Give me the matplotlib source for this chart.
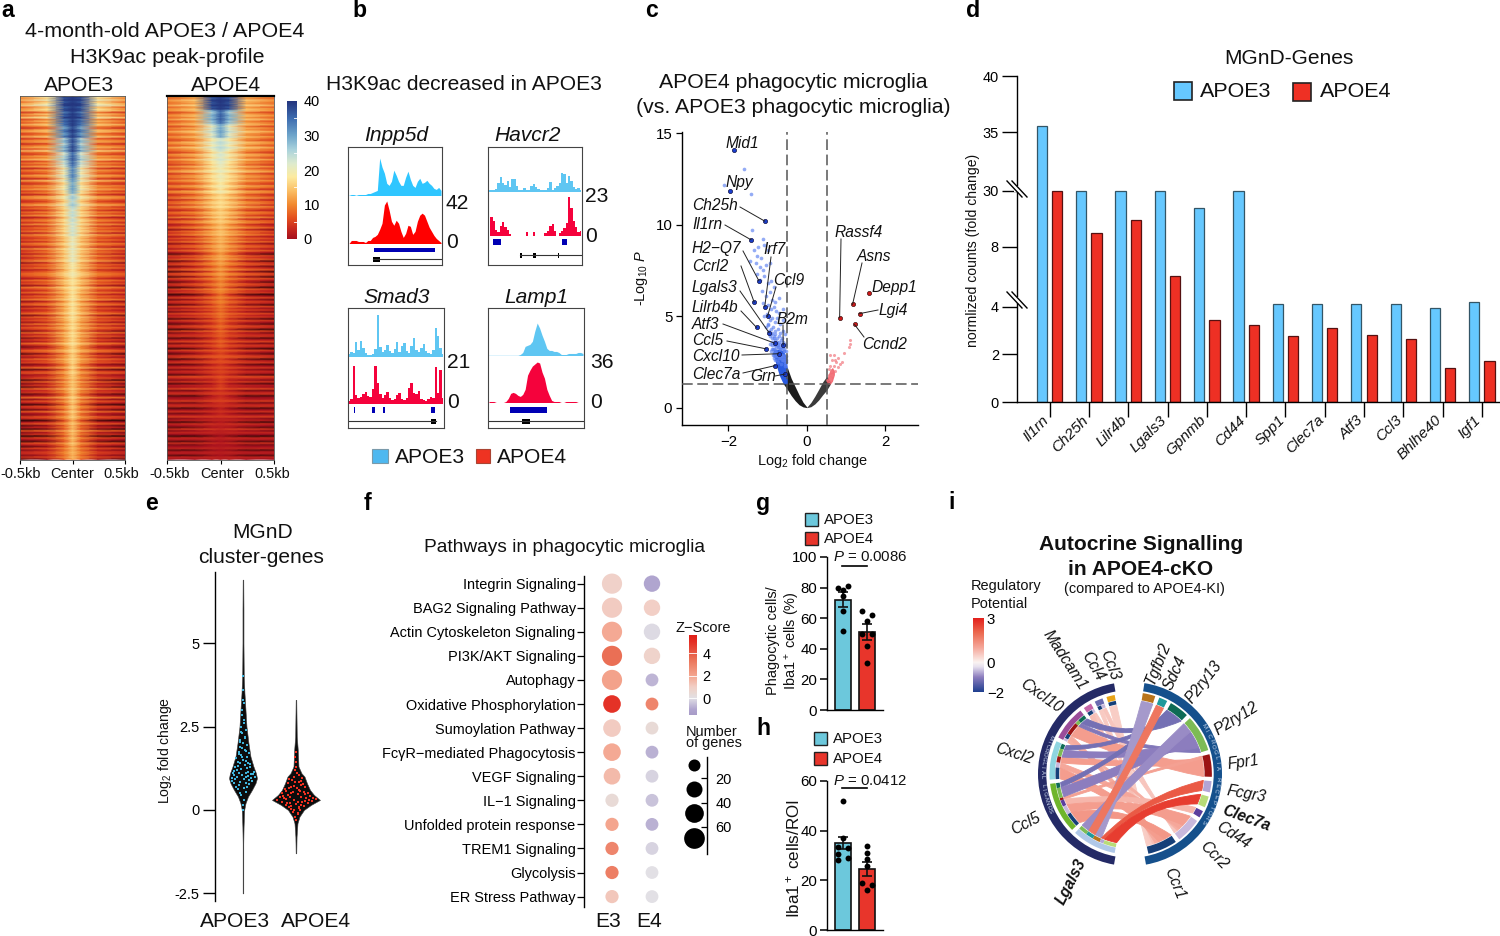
import numpy as np
import matplotlib
matplotlib.use("Agg")
import matplotlib.pyplot as plt
from matplotlib.colors import LinearSegmentedColormap, Normalize
from matplotlib.patches import Rectangle, PathPatch, Wedge
from matplotlib.path import Path

plt.rcParams['font.family'] = ['Liberation Sans', 'DejaVu Sans']
plt.rcParams['mathtext.fontset'] = 'custom'
plt.rcParams['mathtext.rm'] = 'Liberation Sans'
plt.rcParams['mathtext.it'] = 'Liberation Sans:italic'
plt.rcParams['mathtext.bf'] = 'Liberation Sans:bold'
plt.rcParams['axes.linewidth'] = 1.0

# ---------- panel a: rows top to bottom, columns edge / mid / near / centre
HEAT_OFFSETS = [-0.5, -0.24, -0.08, 0, 0.08, 0.24, 0.5]
HEAT_E3 = [[10,17,38,40],[8,13,36,40],[7,11,32,39],[7,10,27,38],[7,10,24,36],[6,9,20,33],[6,9,18,30],
           [6,9,17,26],[5,8,16,24],[5,8,16,23],[5,8,15,21],[4,8,15,21],[4,7,14,19],[4,7,14,18],
           [4,7,13,18],[3,6,13,18],[3,6,12,17],[2,5,12,17],[2,5,11,16],[2,4,10,16],[1,4,10,15],
           [1,3,9,15],[1,3,9,15],[0,2,8,14],[0,2,8,14],[0,2,8,13]]
HEAT_E4 = [[9,13,38,40],[8,12,28,36],[8,12,22,30],[8,12,20,24],[7,11,18,22],[7,11,17,20],[7,10,16,19],
           [6,10,15,17],[6,9,14,16],[5,9,13,15],[5,8,12,14],[4,7,11,13],[4,7,10,12],[3,6,9,11],
           [3,5,8,10],[3,5,7,9],[2,4,6,8],[2,3,5,7],[1,3,5,6],[1,2,4,5],[1,2,3,5],
           [1,1,3,4],[1,1,2,3],[0,1,2,2],[0,0,1,1],[0,0,1,1]]
# row-to-row streak offsets estimated from the horizontal banding of each heatmap
STREAK_E3 = [2,-1,3,-2,1,4,-3,0,3,-4,2,-1,5,-3,1,-2,4,0,-4,2,3,-2,-1,4,-3,1,2,-4,0,3,-2,5,-1,-3,2,0,4,-3,1,-2,3,-4,2,0,-2,3,1,-4,4,-1,-3,2,
             0,3,-2,1,-4,2,3,-1,-3,0,4,-2,1,-3,2,-1,3,-4,0,2,-2,3,-3,1,-1,2,-4,3,0,-2,1,-3,2,0,-4,3,-1,1,-3,2,-2,0,3,-4,1,-1,2,-3,0,2]
STREAK_E4 = [1,-2,2,0,-1,3,-2,1,2,-3,0,2,-1,3,-2,0,2,-3,1,-1,3,0,-2,2,-1,-3,2,1,-2,3,0,-1,-3,2,1,-2,3,-1,0,-3,2,-2,1,3,-3,0,1,-2,2,-1,-3,2,
             0,-4,2,1,-3,-1,2,-4,0,1,-3,2,-1,-4,1,0,-3,2,-5,0,1,-4,-2,1,-5,0,-2,1,-4,0,-3,1,-5,-1,0,-4,1,-3,-6,0,-2,1,-6,-1,0,-5,-2,1,-6,0]
HEAT_BAR_TICKS = [0, 10, 20, 30, 40]

# ---------- panel b: signal tracks
INPP5D_E3 = [0,1,1,0,1,1,1,1,2,2,3,4,5,37,28,22,12,10,14,25,20,14,10,10,18,24,16,10,8,14,17,12,13,15,12,10,7,6,8,5]
INPP5D_E4 = [0,3,3,3,2,2,2,1,3,3,6,7,9,14,20,38,42,33,22,18,23,20,12,6,10,18,17,9,12,22,28,30,28,22,16,12,8,5,3,1]
HAVCR2_E3 = [1,1,1,2,8,14,8,6,10,4,12,12,5,1,1,3,1,1,5,7,4,2,1,1,1,3,9,1,3,5,8,18,17,8,15,10,4,2,3,1]
HAVCR2_E4 = [0,18,14,5,3,9,13,8,5,1,0,0,0,0,0,0,3,0,0,3,0,0,0,0,2,4,9,11,4,0,2,4,7,12,38,27,14,8,3,4]
SMAD3_E3 = [2,4,3,14,6,15,8,3,1,1,2,7,41,9,4,6,11,5,3,7,14,4,10,13,5,3,10,18,6,4,8,12,5,3,2,6,28,20,8,2]
SMAD3_E4 = [2,4,37,8,5,6,9,11,7,6,14,37,20,9,5,8,11,5,3,4,8,10,4,3,5,15,20,10,9,12,4,3,2,4,6,5,36,10,33,5]
LAMP1_E3 = [0,0,0,0,0,0,0,0,0,0,0,0,0,1,3,9,10,11,14,24,32,27,20,14,7,5,5,4,4,3,1,1,1,2,2,2,2,3,3,2]
LAMP1_E4 = [1,1,1,0,0,0,0,1,4,9,10,9,7,6,8,13,27,32,36,38,40,39,30,24,13,7,2,1,1,1,0,0,1,1,1,1,1,0,0,0]
GENES_B = ['Inpp5d', 'Havcr2', 'Smad3', 'Lamp1']
TRACK_MAX = ['42', '23', '21', '36']

# ---------- panel c: volcano
LABEL_GENES = ['Mid1','Npy','Ch25h','Il1rn','H2\u2212Q7','Ccrl2','Irf7','Ccl9','Lilrb4b','Lgals3','B2m','Atf3','Ccl5','Cxcl10','Clec7a','Grn']
LABEL_X = [-1.85,-1.96,-1.07,-1.42,-1.22,-1.34,-1.07,-1.0,-1.28,-0.96,-0.6,-0.82,-1.04,-0.72,-0.81,-0.55]
LABEL_Y = [14.08,11.84,10.2,9.18,6.94,5.77,5.52,4.99,4.39,4.1,3.42,3.53,3.22,2.95,2.3,1.84]
UP_GENES = ['Rassf4','Asns','Depp1','Lgi4','Ccnd2']
UP_X = [0.84,1.17,1.58,1.34,1.22]
UP_Y = [4.92,5.65,6.25,5.14,4.55]
BLUE_X = [-1.6,-2.1,-1.43,-1.4,-1.12,-1.1,-1.25,-1.35,-1.28,-1.18,-1.0,-1.45,-1.3,-1.2,-1.05,-0.95,-1.12,-1.28,-1.2,-1.08,-1.0,-0.92,-0.85,
          -1.15,-1.05,-0.95,-0.88,-0.8,-0.7,-1.12,-1.0,-0.92,-0.85,-0.78,-0.7,-0.62,-1.1,-1.02,-0.95,-0.88,-0.82,-0.75,-0.68,-0.6,-1.05,
          -0.98,-0.92,-0.86,-0.8,-0.74,-0.68,-0.62,-0.56,-0.95,-0.9,-0.85,-0.8,-0.75,-0.7,-0.65,-0.6,-0.55,-0.88,-0.83,-0.78,-0.73,-0.68,-0.63,-0.58,-0.85,-0.8,-0.75,-0.7,-0.65,-0.6,-0.55,
          -1.0,-0.96,-0.92,-0.88,-0.84,-0.8,-0.76,-0.72,-0.68,-0.64,-0.6,-0.56,-0.94,-0.9,-0.86,-0.82,-0.78,-0.74,-0.7,-0.66,-0.62,-0.58,-0.54,-0.92,-0.87,-0.83,-0.79,-0.75,-0.71,-0.67,-0.63,-0.59,-0.55,
          -0.88,-0.84,-0.8,-0.77,-0.73,-0.69,-0.65,-0.61,-0.57,-0.53,-0.85,-0.81,-0.76,-0.71,-0.66,-0.62,-0.58,-0.54,-0.52,-0.56,-0.6,-0.64,-0.68,-0.72,-0.77,-0.83]
BLUE_Y = [13.05,12.2,11.7,9.7,9.2,8.9,8.8,8.6,8.3,8.2,8.6,8.0,7.9,7.7,7.8,7.9,7.5,7.3,7.0,7.2,6.8,6.9,6.6,
          6.4,6.1,6.3,5.9,5.8,6.0,5.7,5.6,5.4,5.5,5.3,5.2,5.4,5.0,5.1,4.8,4.9,4.7,4.9,4.6,4.8,4.4,
          4.5,4.3,4.4,4.2,4.3,4.1,4.2,4.0,3.9,3.8,3.9,3.7,3.8,3.6,3.7,3.6,3.5,3.4,3.5,3.3,3.4,3.2,3.3,3.1,3.0,3.1,2.9,3.0,2.9,2.8,2.7,
          4.6,4.2,4.0,4.1,3.8,4.0,3.6,3.9,3.5,3.8,3.5,3.4,3.5,3.6,3.2,3.4,3.1,3.3,3.0,3.2,2.9,3.1,2.8,3.1,2.9,3.0,2.8,2.9,2.7,2.8,2.6,2.7,2.5,
          3.2,2.7,2.6,2.8,2.5,2.7,2.4,2.6,2.3,2.5,2.9,2.8,2.6,2.9,2.7,3.3,3.2,3.1,2.6,2.4,2.6,2.8,2.9,3.3,3.5,3.2]
RED_X = [1.09,1.1,1.07,0.95,0.6,0.7,0.8,0.65,0.75,0.9,0.6,0.68,0.78,0.56,0.62,0.72,0.55,0.65,0.58,0.52,0.6,0.55,0.85,0.72]
RED_Y = [3.7,3.5,3.3,3.0,2.9,2.9,2.7,2.6,2.5,2.5,2.3,2.3,2.2,2.1,2.0,2.0,1.8,1.8,1.6,1.5,1.5,1.35,2.4,2.6]
LOB_X = [-0.6,-0.5,-0.4,-0.3,-0.2,-0.1,0]
LOB_LOW = [1.3,1.0,0.66,0.38,0.16,0.04,0]
LOB_UP = [1.3,2.2,1.6,1.15,0.7,0.3,0.03]
ROB_X = [0,0.1,0.2,0.3,0.4,0.5,0.6]
ROB_LOW = [0,0.05,0.2,0.42,0.7,0.95,1.3]
ROB_UP = [0.03,0.28,0.62,1.0,1.4,1.7,1.45]
BFILL_X = [-0.86,-0.78,-0.7,-0.6,-0.55,-0.5]
BFILL_LOW = [3.0,2.3,1.75,1.3,1.3,1.3]
BFILL_UP = [3.2,3.2,3.2,3.1,2.9,2.2]
RFILL_X = [0.5,0.55,0.6,0.65,0.7]
RFILL_LOW = [1.3,1.3,1.3,1.45,1.8]
RFILL_UP = [1.5,1.85,2.1,2.2,2.0]

# ---------- panel d
D_GENES = ['Il1rn','Ch25h','Lilr4b','Lgals3','Gpnmb','Cd44','Spp1','Clec7a','Atf3','Ccl3','Bhlhe40','Igf1']
D_E3 = [35.5,30,30,30,23.3,30,4.17,4.17,4.17,4.17,3.96,4.33]
D_E4 = [30,13.5,18.6,6.1,3.45,3.23,2.77,3.1,2.8,2.64,1.42,1.72]
D_TICKS = [0,2,4,8,30,35,40]

# ---------- panel e: violin outlines (value, half width)
E3_LEVEL = [-2.5,-1,-0.5,0,0.2,0.4,0.6,0.8,0.95,1.1,1.3,1.6,2,2.5,3,3.5,4,5,6,6.9]
E3_HALF = [0.3,0.3,0.6,1.2,2.5,5,9,12.5,14,13,10.5,7.5,5.5,3.5,2.5,1.5,0.8,0.5,0.5,0.3]
E4_LEVEL = [-1.3,-0.8,-0.4,-0.2,0,0.15,0.3,0.45,0.6,0.8,1,1.1,1.3,1.8,2.2,3.3]
E4_HALF = [0.3,0.6,1.5,3.5,8,15,24,18,14,11,8.5,5.5,2.5,1.8,0.8,0.3]
E3_SP_Y = [0.45,0.55,0.62,0.7,0.7,0.78,0.8,0.85,0.88,0.92,0.95,0.98,1.0,1.02,1.05,1.08,1.1,1.12,1.15,1.2,1.22,1.28,1.3,1.35,1.4,1.45,1.5,1.55,1.6,1.65,1.7,1.75,1.8,1.9,1.95,2.0,2.1,2.2,2.3,2.4,2.5,2.7,3.0,3.3,3.6,
           0.3,0.5,0.65,0.75,0.82,0.86,0.9,0.94,0.97,1.0,1.04,1.07,1.1,1.14,1.18,1.25,1.32,1.38,1.42,1.48,1.58,1.68,1.78,1.85,2.05,2.15,2.35,2.6,2.85,3.2,0.15,0.0,4.0]
E3_SP_X = [-2,3,-5,4,-7,6,-9,-3,9,1,-11,12,-6,5,-1,8,-10,3,11,-6,-2,7,-8,2,5,-5,0,-7,4,-2,6,-4,2,-3,4,0,-3,2,-1,3,-2,1,-1,0.5,0,
           1,-3,1,-4,3,-11,6,-8,8,3,-9,10,-4,5,-9,4,-5,7,-3,3,-1,-4,3,-1,-3,2,-2,1,-1,1,0,0,0]
E4_SP_Y = [-0.3,-0.2,-0.1,-0.05,0,0.02,0.08,0.1,0.12,0.15,0.18,0.2,0.22,0.25,0.25,0.28,0.3,0.3,0.32,0.35,0.35,0.38,0.4,0.42,0.45,0.48,0.5,0.52,0.55,0.58,0.6,0.65,0.68,0.72,0.75,0.8,0.85,0.9,0.95,1.0,1.1,1.3,1.6,
           -0.12,0.0,0.05,0.12,0.16,0.2,0.24,0.27,0.3,0.33,0.36,0.4,0.43,0.47,0.5,0.54,0.58,0.62,0.66,0.7,0.78,0.83,0.88,0.92,1.05,1.2,1.45,1.75]
E4_SP_X = [0,-1,2,-3,4,-5,-7,3,8,-10,0,12,-6,-14,6,16,-19,-2,20,-12,10,5,-16,14,-8,2,12,-5,8,-10,3,-7,9,-2,5,-8,3,-4,6,-2,1,0,-0.5,
           2,-2,3,-5,5,-9,2,9,13,-10,17,-6,-13,9,-14,-3,4,-11,1,-5,7,-1,5,-7,3,-1,0,0]

# ---------- panel f
PATHWAYS = ['Integrin Signaling','BAG2 Signaling Pathway','Actin Cytoskeleton Signaling','PI3K/AKT Signaling','Autophagy',
            'Oxidative Phosphorylation','Sumoylation Pathway','Fc\u03b3R\u2212mediated Phagocytosis','VEGF Signaling','IL\u22121 Signaling',
            'Unfolded protein response','TREM1 Signaling','Glycolysis','ER Stress Pathway']
Z_E3 = [0.9,1.1,1.9,3.5,2.1,4.9,1.1,1.9,1.5,0.4,2.0,2.9,3.1,1.2]
Z_E4 = [-1.0,1.0,-0.1,0.8,-0.7,2.9,0.4,-0.8,-0.2,-0.5,-0.8,-0.2,0.0,0.0]
N_E3 = [65,65,65,65,65,42,42,42,35,16,16,16,16,16]
N_E4 = [33,33,33,33,14,14,14,14,14,14,14,14,14,14]
SIZE_LEGEND = [10,30,50,70]
SIZE_TICKS = [20,40,60]

# ---------- panels g, h
G_MEAN = [72,51]
G_ERR = [5,5.5]
G_E3_Y = [80,81,78.6,74.7,64.9,51.7]
G_E3_J = [-0.7,0.7,0,0,0,0]
G_E4_Y = [65,62,58,50,50,42,31]
G_E4_J = [-0.7,0.7,0,-0.7,0.7,0,0]
H_MEAN = [35,24.5]
H_ERR = [2.3,2.7]
H_E3_Y = [52,37.2,33.5,33,30.5,29,28]
H_E3_J = [0,0,-0.7,0.7,-0.7,0.7,-0.7]
H_E4_Y = [34,31,28.7,25.8,19,18,16]
H_E4_J = [0,0,0,0,-0.7,0.6,0]

# ---------- panel i: ligand, receptor, ligand-side width, receptor-side width, z
LIGANDS = ['Ccl3','Ccl4','Madcam1','Cxcl10','Cxcl2','Ccl5','Lgals3']
LIG_COLORS = ['#E8A317','#6A6AB0','#C465A8','#9A4C9A','#8FD5E0','#6FB52C','#B0C8E8']
RECEPTORS = ['Tgfbr2','Sdc4','P2ry13','P2ry12','Fpr1','Fcgr3','Clec7a','Cd44','Ccr2','Ccr1']
REC_COLORS = ['#B8741A','#1F9A9A','#0F6B55','#7DBB55','#9B1414','#B3A5D5','#B8DC78','#5B3E9E','#C8B8DC','#153F78']
LINKS = [('Ccl3','Ccr1',6,3,0.5),('Ccl4','Ccr2',3,2,0.6),('Ccl4','Ccr1',3,2,0.55),('Madcam1','Ccr2',2,1,0.6),('Madcam1','Ccr1',4,2,0.7),
         ('Cxcl10','P2ry13',6,6,-1.2),('Cxcl10','P2ry12',3,4,-1.1),('Cxcl10','Fpr1',10,9,1.15),('Cxcl10','Ccr1',4,3,0.95),('Cxcl10','Ccr2',2,2,0.9),
         ('Cxcl2','P2ry13',4,4,-1.2),('Cxcl2','P2ry12',6,6,-1.0),('Cxcl2','Fpr1',5,5,1.15),('Cxcl2','Ccr2',4,4,1.0),('Cxcl2','Ccr1',9,5,1.15),
         ('Ccl5','P2ry13',4,4,-1.2),('Ccl5','P2ry12',8,8,-1.0),('Ccl5','Fpr1',2,2,1.1),('Ccl5','Cd44',5,5,0.8),('Ccl5','Ccr2',7,9,1.15),('Ccl5','Ccr1',11,6,1.25),
         ('Lgals3','P2ry12',7,8,-0.9),('Lgals3','Sdc4',6,6,1.8),('Lgals3','Tgfbr2',6,9,-0.8),('Lgals3','Fcgr3',3,8,2.2),('Lgals3','Clec7a',10,8,2.6)]

# ---------- figure helpers
fig = plt.figure(figsize=(15, 9.36), dpi=100)
W, H = 1500.0, 936.0
def ax_px(l, t, r, b, **kw):
    return fig.add_axes([l / W, 1 - b / H, (r - l) / W, (b - t) / H], **kw)
def pt(px):
    return px * 0.72

ov = fig.add_axes([0, 0, 1, 1], zorder=20)
ov.set_xlim(0, W); ov.set_ylim(H, 0); ov.axis('off'); ov.patch.set_alpha(0)
def T(x, y, s, size=15, ha='center', va='center', **kw):
    return ov.text(x, y + 0.06 * size, s, fontsize=pt(size), ha=ha, va=va, color=kw.pop('color', '#111111'), **kw)
def clean(ax, left=True, bottom=True):
    for k in ('top', 'right'):
        ax.spines[k].set_visible(False)
    ax.spines['left'].set_visible(left)
    ax.spines['bottom'].set_visible(bottom)
    ax.patch.set_alpha(0)

for s, x, y in [('a',8,10),('b',360,10),('c',651,10),('d',973,10),('e',151,503),('f',368,503),('g',763,503),('h',763,728),('i',952,502)]:
    T(x, y - 1, s, 23, fontweight='bold', color='black')

# ---------- panel a
heat_stops = [(-6,'#120303'),(-3,'#4a0a0c'),(0,'#A6101E'),(3,'#C92A1E'),(6,'#E4501F'),(10,'#F28A30'),(14,'#FBBF66'),(18,'#FDEBA0'),
              (22,'#DDEBCF'),(26,'#A9D2DC'),(30,'#6FA6CB'),(35,'#3E6DB0'),(40,'#24367F')]
heat_cmap = LinearSegmentedColormap.from_list('heat', [((v + 6) / 46, c) for v, c in heat_stops], N=512)
heat_norm = Normalize(-6, 40)
SUBROWS = 8
for rows, streak, box in [(HEAT_E3, STREAK_E3, (20, 96, 125, 460)), (HEAT_E4, STREAK_E4, (167, 96, 274, 460))]:
    ax = ax_px(*box)
    half = np.array(rows, float)
    grid = np.repeat(np.hstack([half, half[:, 2::-1]]), SUBROWS, axis=0)
    off = np.concatenate([np.array(streak, float), np.array(streak, float)[::-1]])
    off = np.resize(off, grid.shape[0]) * 1.2
    grid = grid + off[:, None] * np.array([1, 1, 0.7, 0.35, 0.7, 1, 1])
    yy = (np.arange(grid.shape[0]) + 0.5) / grid.shape[0]
    ax.pcolormesh(HEAT_OFFSETS, yy, grid, cmap=heat_cmap, norm=heat_norm, shading='gouraud')
    ax.set_xlim(-0.5, 0.5); ax.set_ylim(1, 0)
    ax.set_xticks([-0.5, 0, 0.5]); ax.set_xticklabels([]); ax.set_yticks([])
    ax.tick_params(axis='x', length=3, width=0.8)
    for sp in ax.spines.values():
        sp.set_linewidth(0.6); sp.set_color('#555555')
    if rows is HEAT_E4:
        ax.spines['top'].set_color('black'); ax.spines['top'].set_linewidth(1.6)
for x, s in [(21,'-0.5kb'),(72,'Center'),(121,'0.5kb'),(170,'-0.5kb'),(222,'Center'),(272,'0.5kb')]:
    T(x, 473, s, 14.5)
T(165, 30, '4-month-old APOE3 / APOE4', 21.5)
T(167, 56, 'H3K9ac peak-profile', 21.5)
T(79, 84, 'APOE3', 21); T(226, 84, 'APOE4', 21)
cax = ax_px(286.5, 101, 296.5, 239)
cax.imshow(np.linspace(40, 0, 256)[:, None], cmap=heat_cmap, norm=heat_norm, aspect='auto', extent=[0, 1, 0, 40])
cax.set_xticks([]); cax.yaxis.tick_right()
cax.set_yticks(HEAT_BAR_TICKS); cax.set_yticklabels([str(v) for v in HEAT_BAR_TICKS], fontsize=pt(14.5))
cax.tick_params(axis='y', length=0, pad=5)
for sp in cax.spines.values():
    sp.set_visible(False)
for v in (5, 15, 25, 35):
    cax.axhline(v, xmin=0.75, color='white', lw=0.6)

# ---------- panel b
T(464, 83, 'H3K9ac decreased in APOE3', 21)
boxes = [(348,147,442,265),(488,147,582,265),(348,308,444,428),(488,308,584,428)]
bases = [(195,243),(191,235),(356,403),(355,402)]
heights = [(37,42),(18,38),(41,37),(32,40)]
tracks = [(INPP5D_E3,INPP5D_E4),(HAVCR2_E3,HAVCR2_E4),(SMAD3_E3,SMAD3_E4),(LAMP1_E3,LAMP1_E4)]
colors_b = [('#2FC6FF','#FF0000'),('#5FC6F2','#F5023C'),('#5FC6F2','#F5023C'),('#5FC6F2','#F5023C')]
stepped = [None, 'mid', 'mid', None]
title_pos = [(396,134),(528,134),(397,296),(536,296)]
max_pos = [(446,202),(585,195),(447,361),(590,361)]
zero_pos = [(446,241),(585,235),(447,401),(590,401)]
peak_bars = [[(373.5,435)],[(493,501),(562,567)],[(354,355.5),(372.5,375),(383.5,384.8),(431.5,435)],[(510,547)]]
bar_y = [(248,252),(239,245),(407,413),(407,413)]
gene_line = [(259,373,442,[(373,380)]),(255,520,582,[(520,522),(533,536),(558,559)]),(421,348,436,[(431,436)]),(421,488,584,[(522,530)])]
for i, box in enumerate(boxes):
    l, t, r, b = box
    frame = ax_px(l, t, r, b)
    frame.set_xticks([]); frame.set_yticks([]); frame.set_xlim(l, r); frame.set_ylim(b, t)
    for sp in frame.spines.values():
        sp.set_linewidth(0.8); sp.set_color('#444444')
    for j, (vals, base, hgt, col) in enumerate(zip(tracks[i], bases[i], heights[i], colors_b[i])):
        a = ax_px(l + 1, base - hgt - 1, r - 1, base + 0.5)
        a.fill_between(np.arange(len(vals)), vals, 0, color=col, lw=0, step=stepped[i])
        if j == 0:
            a.axhline(0, color=col, lw=1)
        a.set_xlim(0, len(vals) - 1); a.set_ylim(0, hgt + 1); a.axis('off')
    for x0, x1 in peak_bars[i]:
        frame.add_patch(Rectangle((x0, bar_y[i][0]), x1 - x0, bar_y[i][1] - bar_y[i][0], color='#0000B4', lw=0))
    gy, gx0, gx1, blocks = gene_line[i]
    frame.plot([gx0, gx1], [gy, gy], color='#333333', lw=0.8)
    for x0, x1 in blocks:
        frame.add_patch(Rectangle((x0, gy - 2.5), x1 - x0, 5, color='black', lw=0))
    T(*title_pos[i], GENES_B[i], 21, style='italic')
    T(*max_pos[i], TRACK_MAX[i], 21, ha='left')
    T(*zero_pos[i], '0', 21, ha='left')
ov.add_patch(Rectangle((372, 449), 16, 14, fc='#4EB8F0', ec='#7a9aaa', lw=0.8))
ov.add_patch(Rectangle((475.5, 449), 14.5, 14, fc='#EE3322', ec='#aa4433', lw=0.8))
T(395, 456, 'APOE3', 21, ha='left'); T(497, 456, 'APOE4', 21, ha='left')

# ---------- panel c
ax = ax_px(682, 131.7, 917.7, 425)
clean(ax)
ax.set_xlim(-3.18, 2.82); ax.set_ylim(-0.95, 15.09)
ax.fill_between(LOB_X, LOB_LOW, LOB_UP, color='#1c1c1c', lw=0, zorder=2)
ax.fill_between(ROB_X, ROB_LOW, ROB_UP, color='#3a3a3a', lw=0, zorder=2)
ax.fill_between(BFILL_X, BFILL_LOW, BFILL_UP, color='#2a5be0', lw=0, zorder=2)
ax.fill_between(RFILL_X, RFILL_LOW, RFILL_UP, color='#F04a55', alpha=0.8, lw=0, zorder=2)
ax.scatter(BLUE_X, BLUE_Y, s=7, color='#5a7ff0', alpha=0.65, lw=0, zorder=3)
ax.scatter(RED_X, RED_Y, s=5, color='#F27a80', alpha=0.7, lw=0, zorder=3)
ax.axvline(-0.5, color='#555555', lw=1.1, dashes=(7, 3), zorder=4)
ax.axvline(0.5, color='#555555', lw=1.1, dashes=(7, 3), zorder=4)
ax.axhline(1.3, color='#555555', lw=1.1, dashes=(7, 3), zorder=4)
ax.scatter(LABEL_X, LABEL_Y, s=9, color='#1a3fd0', ec='#101040', lw=0.5, zorder=5)
ax.scatter(UP_X, UP_Y, s=9, color='#D01818', ec='#401010', lw=0.5, zorder=5)
ax.set_xticks([-2, 0, 2]); ax.set_xticklabels(['\u22122', '0', '2'], fontsize=pt(15))
ax.set_yticks([0, 5, 10, 15]); ax.set_yticklabels(['0', '5', '10', '15'], fontsize=pt(15))
ax.tick_params(length=4, width=0.9, pad=3)
T(793, 81, 'APOE4 phagocytic microglia', 21.3)
T(793, 106, '(vs. APOE3 phagocytic microglia)', 21.3)
T(812, 460, 'Log$_2$ fold change', 14.5)
T(642, 277, '-Log$_{10}$ $P$', 14.5, rotation=90)
# label anchor (text x, text y, line start x, line start y)
lab_pos = [(726,143,None,None),(726,182,None,None),(692,205,740,207),(692,224,725,225),(692,248,743,251),(692,266,741,266),
           (763,249,771,257),(773,280,776,287),(692,307,741,311),(692,287,740,291),(777,319,783,325),(692,324,723,324),
           (692,340,727,341),(692,356,742,355),(692,374,743,373),(750,376,775,376)]
up_pos = [(835,232,841,239),(857,256,862,263),(872,287,None,None),(879,310,878,310),(862,344,864,337)]
def to_px(x, y):
    return 806.7 + x * 39.2, 407.7 - y * 18.29
for names, xs, ys, pos in [(LABEL_GENES, LABEL_X, LABEL_Y, lab_pos), (UP_GENES, UP_X, UP_Y, up_pos)]:
    for n, x, y, (tx, ty, sx, sy) in zip(names, xs, ys, pos):
        T(tx, ty, n, 15.5, ha='left', style='italic')
        if sx is not None:
            px, py = to_px(x, y)
            ov.plot([sx, px], [sy, py], color='#222222', lw=0.7)

# ---------- panel d
yf = lambda v: np.interp(v, [0,2,4,8,30,35,40], [0,48,95,155,211,270,326])
yi = lambda v: np.interp(v, [0,48,95,155,211,270,326], [0,2,4,8,30,35,40])
ax = ax_px(1017, 76, 1500, 402)
ax.set_yscale('function', functions=(yf, yi))
clean(ax)
xs = np.arange(len(D_GENES))
ax.bar(xs - 0.195, D_E3, 0.26, color='#66C8FF', ec='#335566', lw=0.9)
ax.bar(xs + 0.195, D_E4, 0.26, color='#EE3024', ec='#551111', lw=0.9)
ax.set_xlim(-0.83, 11.46); ax.set_ylim(0, 40)
ax.set_xticks(xs); ax.set_xticklabels([])
for x, g in zip(xs, D_GENES):
    T(1049.6 + 39.3 * x - 3, 417, g, 15.3, ha='right', va='center', rotation=45, rotation_mode='anchor', style='italic')
ax.set_yticks(D_TICKS); ax.set_yticklabels([str(v) for v in D_TICKS], fontsize=pt(14.5))
ax.tick_params(axis='x', length=11, width=1, pad=1)
ax.tick_params(axis='y', length=11, width=1, pad=2)
for y0 in (181, 292):
    ov.add_patch(Rectangle((1014, y0 + 5), 6, 6, fc='white', ec='none'))
    for dx in (0, 5):
        ov.plot([1007 + dx, 1022 + dx], [y0, y0 + 16], color='black', lw=1)
T(973, 250, 'normlized counts (fold change)', 14, rotation=90)
T(1289, 57, 'MGnD-Genes', 21)
ov.add_patch(Rectangle((1173.5, 82), 18.5, 18, fc='#66C8FF', ec='#222222', lw=1.2))
ov.add_patch(Rectangle((1293, 83), 18, 18, fc='#EE3024', ec='#222222', lw=1.2))
T(1200, 90, 'APOE3', 21.5, ha='left'); T(1320, 90, 'APOE4', 21.5, ha='left')

# ---------- panel e
ax = ax_px(215, 572, 345, 900.7)
clean(ax, bottom=False)
ax.set_xlim(-0.528, 1.925); ax.set_ylim(-2.72, 7.13)
UNIT = 53.0
for k, (lv, hf) in enumerate([(E3_LEVEL, E3_HALF), (E4_LEVEL, E4_HALF)]):
    hf = np.array(hf) / UNIT
    ax.fill_betweenx(lv, k - hf, k + hf, color='#0c0c0c', lw=0.4, ec='#444444')
ax.scatter(0 + np.array(E3_SP_X) / UNIT, E3_SP_Y, s=4, color='#3FB4DC', marker='s', lw=0, zorder=3)
ax.scatter(1 + np.array(E4_SP_X) / UNIT, E4_SP_Y, s=4, color='#F03020', marker='s', lw=0, zorder=3)
ax.set_xticks([]); ax.set_yticks([-2.5, 0, 2.5, 5]); ax.set_yticklabels(['-2.5', '0', '2.5', '5'], fontsize=pt(14.5))
ax.tick_params(axis='y', length=9, width=1, pad=2)
T(263, 531, 'MGnD', 21); T(261, 556, 'cluster-genes', 21)
T(235, 920, 'APOE3', 21); T(316, 920, 'APOE4', 21)
T(165, 750, 'Log$_2$ fold change', 14, rotation=90)

# ---------- panel f
z_stops = [(-1.5,'#A89CC8'),(-1,'#B0A5CF'),(0,'#E2E0E5'),(0.5,'#EAD8D2'),(1,'#F2CFC6'),(2,'#F4A58E'),(3.5,'#EA7055'),(5,'#E42E24'),(5.6,'#E02018')]
z_cmap = LinearSegmentedColormap.from_list('z', [((v + 1.5) / 7.1, c) for v, c in z_stops])
z_norm = Normalize(-1.5, 5.6)
diam = lambda n: np.interp(n, [10,30,50,70], [12,16,18.7,20.7])
ax = ax_px(584, 575.7, 670, 906.7)
clean(ax, bottom=False)
rows = np.arange(len(PATHWAYS))
ax.set_xlim(0, 86); ax.set_ylim(13 + 0.42, -0.33)
ax.scatter([28] * 14, rows, s=pt(diam(np.array(N_E3))) ** 2, c=Z_E3, cmap=z_cmap, norm=z_norm, lw=0, clip_on=False)
ax.scatter([68] * 14, rows, s=pt(diam(np.array(N_E4))) ** 2, c=Z_E4, cmap=z_cmap, norm=z_norm, lw=0, clip_on=False)
ax.set_xticks([]); ax.set_yticks(rows); ax.set_yticklabels(PATHWAYS, fontsize=pt(14.5))
ax.tick_params(axis='y', length=5, width=0.9, pad=1)
T(564, 546, 'Pathways in phagocytic microglia', 19.2)
T(608, 920, 'E3', 21); T(649, 920, 'E4', 21)
cax = ax_px(689, 635, 697, 715)
cax.imshow(np.linspace(5.6, -1.5, 256)[:, None], cmap=z_cmap, norm=z_norm, aspect='auto', extent=[0, 1, -1.5, 5.6])
cax.set_xticks([]); cax.yaxis.tick_right()
cax.set_yticks([0, 2, 4]); cax.set_yticklabels(['0', '2', '4'], fontsize=pt(14.5)); cax.tick_params(axis='y', length=0, pad=4)
for sp in cax.spines.values():
    sp.set_visible(False)
for v in (0, 2, 4):
    cax.axhline(v, color='white', lw=0.6)
T(703, 627, 'Z\u2212Score', 14.5)
T(686, 731, 'Number', 14.5, ha='left'); T(686, 742, 'of genes', 14.5, ha='left')
ax = ax_px(680, 757, 707, 854)
ax.set_xlim(0, 27); ax.set_ylim(854, 757)
for sp in ('top', 'left', 'bottom'):
    ax.spines[sp].set_visible(False)
ax.patch.set_alpha(0)
for n, y in zip(SIZE_LEGEND, (765, 789, 813, 838)):
    ax.scatter([14], [y], s=pt(diam(n)) ** 2, color='black', lw=0, clip_on=False)
ax.set_xticks([]); ax.yaxis.tick_right()
ax.set_yticks([778, 803, 827]); ax.set_yticklabels([str(v) for v in SIZE_TICKS], fontsize=pt(14.5))
ax.tick_params(axis='y', direction='in', length=4, width=0.9, pad=6)

# ---------- panels g, h
def barpanel(box, ylim, ticks, mean, err, ys, label, lab_x, lab_y, lab_size, ptext, p_y, line_y, leg):
    ax = ax_px(*box)
    clean(ax)
    ax.set_xlim(-0.667, 1.667); ax.set_ylim(*ylim)
    ax.bar([0, 1], mean, 0.66, color=['#6CC8DC', '#E8352B'], ec='#111111', lw=1.2, zorder=2)
    ax.errorbar([0, 1], mean, yerr=err, color='#111111', lw=1.2, capsize=3.5, capthick=1.2, ls='none', zorder=3)
    for k, (yv, jit) in enumerate(ys):
        ax.scatter(k + np.array(jit) * 0.32, yv, s=18, color='black', lw=0, zorder=4, clip_on=False)
    ax.set_xticks([]); ax.set_yticks(ticks); ax.set_yticklabels([str(t) for t in ticks], fontsize=pt(15))
    ax.tick_params(axis='y', length=5, width=1.1, pad=2)
    T(833, p_y, ptext, 15, ha='left')
    ov.plot([842, 867], [line_y, line_y], color='black', lw=1.2)
    T(lab_x, lab_y, label, lab_size, rotation=90, linespacing=1.2)
    lx, y1, y2 = leg
    for yy, c, s in [(y1, '#6CC8DC', 'APOE3'), (y2, '#E8352B', 'APOE4')]:
        ov.add_patch(Rectangle((lx, yy), 12.5, 12.5, fc=c, ec='#222222', lw=1))
        T(lx + 19, yy + 6.5, s, 15, ha='left')
barpanel((827, 557, 883, 710), (0, 100), [0,20,40,60,80,100], G_MEAN, G_ERR, [(G_E3_Y, G_E3_J), (G_E4_Y, G_E4_J)],
         'Phagocytic cells/\nIba1$^+$ cells (%)', 784, 640, 14.5, '$P$ = 0.0086', 556, 566, (805, 513, 532))
barpanel((827, 781, 883, 930), (0, 60), [0,20,40,60], H_MEAN, H_ERR, [(H_E3_Y, H_E3_J), (H_E4_Y, H_E4_J)],
         'Iba1$^+$ cells/ROI', 793, 858, 17, '$P$ = 0.0412', 780, 788, (814, 732, 752))

# ---------- panel i
T(1141, 543, 'Autocrine Signalling', 21, fontweight='bold')
T(1141, 568, 'in APOE4-cKO', 21, fontweight='bold')
T(1144, 588, '(compared to APOE4-KI)', 14.5)
T(971, 585, 'Regulatory', 14.5, ha='left'); T(971, 603, 'Potential', 14.5, ha='left')
rp_stops = [(-2,'#1F3F8F'),(-1,'#8C7DBE'),(-0.3,'#E6E0EE'),(0,'#FBF4F2'),(1,'#F5A79A'),(2,'#EC6A50'),(3,'#E3201C')]
rp_cmap = LinearSegmentedColormap.from_list('rp', [((v + 2) / 5, c) for v, c in rp_stops])
rp_norm = Normalize(-2, 3)
cax = ax_px(973, 618, 984, 692)
cax.imshow(np.linspace(3, -2, 256)[:, None], cmap=rp_cmap, norm=rp_norm, aspect='auto', extent=[0, 1, -2, 3])
cax.set_xticks([]); cax.yaxis.tick_right(); cax.set_yticks([-2, 0, 3]); cax.set_yticklabels(['\u22122', '0', '3'], fontsize=pt(15))
cax.tick_params(axis='y', length=0, pad=2)
for sp in cax.spines.values():
    sp.set_visible(False)

ax = ax_px(1030, 674, 1230, 874)
ax.set_xlim(-100, 100); ax.set_ylim(-100, 100); ax.axis('off')
R = 92.0
def ring(a0, a1, r0, r1, color, z=3):
    lo, hi = min(a0, a1), max(a0, a1)
    ax.add_patch(Wedge((0, 0), r1 * R, lo, hi, width=(r1 - r0) * R, fc=color, ec='none', zorder=z))
# sector layout, angles in degrees: left side runs 100 to 258, right side 80 to -78
GAP_L, GAP_R = 3.0, 3.0
lig_w = {n: sum(k[2] for k in LINKS if k[0] == n) for n in LIGANDS}
rec_w = {n: sum(k[3] for k in LINKS if k[1] == n) for n in RECEPTORS}
lig_span, a = {}, 101.0
for n in LIGANDS:
    lig_span[n] = (a, a + lig_w[n]); a += lig_w[n] + GAP_L
rec_span, a = {}, 81.0
for n in RECEPTORS:
    rec_span[n] = (a, a - rec_w[n]); a -= rec_w[n] + GAP_R
ring(100, 260, 0.91, 1.0, '#242A66')
ring(-80, 81, 0.91, 1.0, '#15508C')
for n, c in zip(LIGANDS, LIG_COLORS):
    ring(*lig_span[n], 0.815, 0.875, c)
for n, c in zip(RECEPTORS, REC_COLORS):
    ring(*rec_span[n], 0.81, 0.89, c)
rec_col = dict(zip(RECEPTORS, REC_COLORS))
# assign link ends
lig_cur = {n: lig_span[n][0] for n in LIGANDS}
rec_cur = {n: rec_span[n][0] for n in RECEPTORS}
ends = {}
for i, (lg, rc, lw_, rw_, z) in enumerate(LINKS):
    ends[i] = [lig_cur[lg], lig_cur[lg] + lw_, None, None, z, rc]
    lig_cur[lg] += lw_
for i in range(len(LINKS) - 1, -1, -1):
    lg, rc, lw_, rw_, z = LINKS[i]
    ends[i][2] = rec_cur[rc]; ends[i][3] = rec_cur[rc] - rw_
    rec_cur[rc] -= rw_
def arc(a0, a1, r, n=16):
    t = np.radians(np.linspace(a0, a1, n))
    return np.c_[r * np.cos(t), r * np.sin(t)]
def rank(i):
    z = ends[i][4]
    return 2 if z >= 1.7 else (1 if z < 0 else 0)
for i in sorted(ends, key=rank):
    a0, a1, b0, b1, z, rc = ends[i]
    ring(a0, a1, 0.77, 0.81, rec_col[rc], z=3)
    rl, rr = 0.76 * R, 0.80 * R
    A = arc(a0, a1, rl); B = arc(b1, b0, rr)
    c1 = (A[-1] + B[0]) * 0.3
    c2 = (B[-1] + A[0]) * 0.3
    v = [tuple(p) for p in A] + [tuple(c1), tuple(B[0])] + [tuple(p) for p in B[1:]] + [tuple(c2), tuple(A[0])]
    c = [Path.MOVETO] + [Path.LINETO] * (len(A) - 1) + [Path.CURVE3, Path.CURVE3] + [Path.LINETO] * (len(B) - 1) + [Path.CURVE3, Path.CURVE3]
    col = rp_cmap(rp_norm(z))
    ax.add_patch(PathPatch(Path(v, c), fc=col, ec=col, lw=0.6, zorder=2 + rank(i) * 0.1))
def ring_text(s, a0, a1, off):
    for ch, an in zip(s, np.linspace(a0, a1, len(s))):
        t = np.radians(an)
        ax.text(0.955 * R * np.cos(t), 0.955 * R * np.sin(t), ch, fontsize=pt(6), color='#CFDDF2', ha='center', va='center',
                rotation=an + off, zorder=6)
ring_text('MICROGLIAL LIGANDS', 155, 205, -270)
ring_text('MICROGLIA RECEPTORS', 33, -33, -90)
labels_i = [('Ccl3',450,285,-70,False),('Ccl4',398,288,-60,False),('Madcam1',315,270,-57,False),('Cxcl10',243,378,-35,False),
            ('Cxcl2',163,552,-18,False),('Ccl5',197,760,28,False),('Lgals3',335,935,63,True),('Tgfbr2',593,280,68,False),
            ('Sdc4',645,310,65,False),('P2ry13',730,335,52,False),('P2ry12',828,445,32,False),('Fpr1',850,578,8,False),
            ('Fcgr3',860,672,-10,False),('Clec7a',860,745,-20,True),('Cd44',818,795,-33,False),('Ccr2',762,855,-45,False),('Ccr1',642,940,-68,False)]
for s, zx, zy, rot, bold in labels_i:
    T(zx / 3 + 960, zy / 3 + 570 - 1, s, 15.5, style='italic', rotation=rot, fontweight='bold' if bold else 'normal')

fig.savefig('out.png', dpi=100)
